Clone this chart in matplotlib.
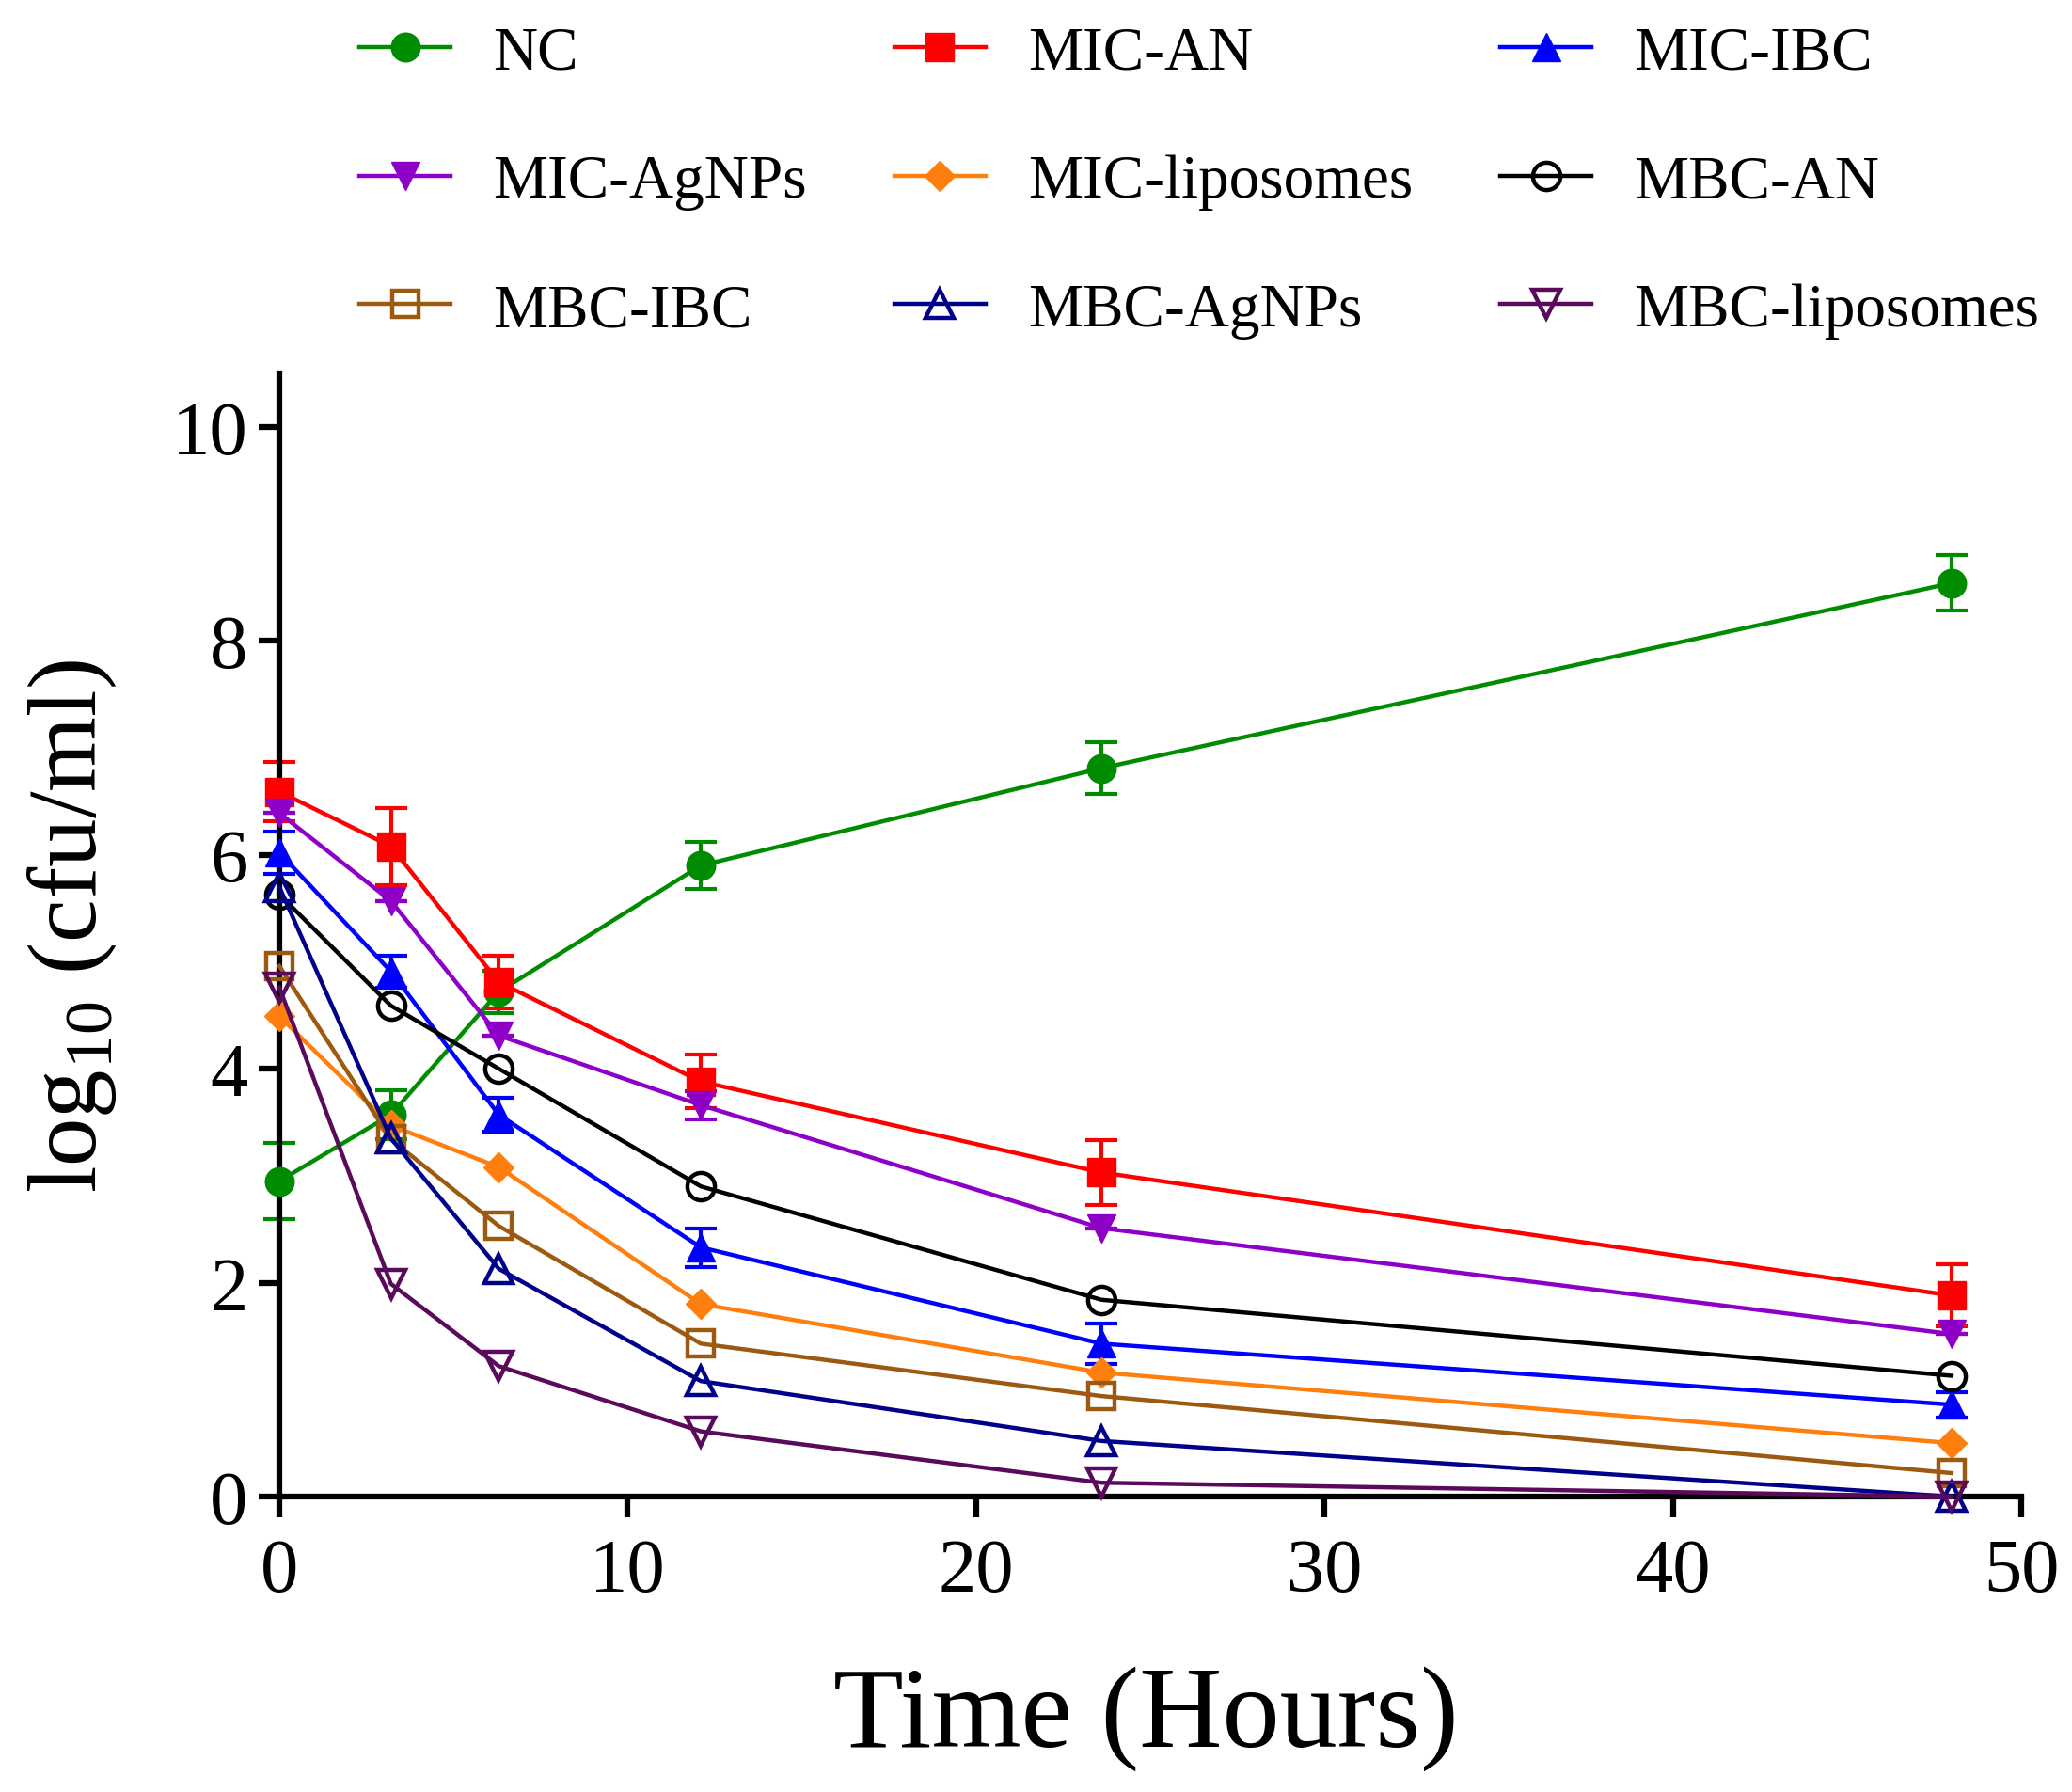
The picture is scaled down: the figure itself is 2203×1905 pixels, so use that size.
import matplotlib
matplotlib.use('Agg')
import matplotlib.pyplot as plt
import numpy as np

plt.rcParams['font.family'] = 'Liberation Serif'
plt.rcParams['mathtext.fontset'] = 'custom'
plt.rcParams['mathtext.rm'] = 'Liberation Serif'

# time points (hours)
hours = [0, 3.2, 6.3, 12.1, 23.6, 48]

nc = [2.95, 3.57, 4.72, 5.90, 6.81, 8.54]
nc_err = [0.36, 0.23, 0.2, 0.22, 0.24, 0.26]
mic_an = [6.59, 6.08, 4.81, 3.88, 3.03, 1.88]
mic_an_err = [0.28, 0.36, 0.25, 0.25, 0.30, 0.29]
mic_ibc = [6.02, 4.91, 3.57, 2.33, 1.43, 0.86]
mic_ibc_err = [0.2, 0.15, 0.16, 0.18, 0.19, 0.12]
mic_agnps = [6.39, 5.57, 4.31, 3.66, 2.51, 1.52]
mic_agnps_err = [0, 0, 0, 0.13, 0, 0]
mic_lipo = [4.49, 3.47, 3.08, 1.80, 1.16, 0.50]
mbc_an = [5.63, 4.59, 4.00, 2.90, 1.84, 1.13]
mbc_ibc = [4.96, 3.34, 2.53, 1.43, 0.94, 0.22]
mbc_agnps = [5.70, 3.35, 2.13, 1.08, 0.52, 0.0]
mbc_lipo = [4.76, 1.99, 1.22, 0.61, 0.13, 0.0]

labels = ['NC', 'MIC-AN', 'MIC-IBC', 'MIC-AgNPs', 'MIC-liposomes',
          'MBC-AN', 'MBC-IBC', 'MBC-AgNPs', 'MBC-liposomes']
values = [nc, mic_an, mic_ibc, mic_agnps, mic_lipo, mbc_an, mbc_ibc, mbc_agnps, mbc_lipo]
errors = [nc_err, mic_an_err, mic_ibc_err, mic_agnps_err, None, None, None, None, None]
colors = ['#008c00', '#ff0000', '#0000ff', '#8e00c8', '#ff7f0e',
          '#000000', '#9c5a10', '#00008b', '#5a0a5a']
markers = ['o', 's', '^', 'v', 'D', 'o', 's', '^', 'v']
filled = [True, True, True, True, True, False, False, False, False]
sizes = [22, 22, 22, 22, 16, 21, 20, 21, 21]

fig = plt.figure(figsize=(22.03, 19.06), dpi=100)
ax = fig.add_axes([297 / 2203, 1 - 1592 / 1906, (2149 - 297) / 2203, (1592 - 398) / 1906])

handles = []
for i in range(len(labels)):
    c = colors[i]
    if errors[i] is not None:
        ax.errorbar(hours, values[i], yerr=errors[i], fmt='none', ecolor=c,
                    elinewidth=3, capsize=12, capthick=3, clip_on=False, zorder=2)
    fc = c if filled[i] else 'none'
    ln, = ax.plot(hours, values[i], color=c, lw=3.2, marker=markers[i],
                  markersize=sizes[i], markerfacecolor=fc, markeredgecolor=c,
                  markeredgewidth=3.2 if not filled[i] else 1.0,
                  clip_on=False, zorder=3, label=labels[i])
    handles.append(ln)

ax.set_xlim(0, 50)
ax.set_ylim(0, 10.5)
ax.set_xticks([0, 10, 20, 30, 40, 50])
ax.set_yticks([0, 2, 4, 6, 8, 10])
for s in ['top', 'right']:
    ax.spines[s].set_visible(False)
for s in ['left', 'bottom']:
    ax.spines[s].set_linewidth(4.5)
ax.tick_params(axis='both', length=16, width=4.5, labelsize=58)
ax.tick_params(axis='x', pad=16)
ax.tick_params(axis='y', pad=8)

fig.text(77 / 2203, 1 - 985 / 1906, r'log$_{10}$ (cfu/ml)', rotation=90,
         ha='center', va='center', fontsize=74)
fig.text(1218 / 2203, 1 - 1827 / 1906, 'Time (Hours)', ha='center', va='center',
         fontsize=88)

# legend filled row by row, matplotlib fills by column
order = [0, 3, 6, 1, 4, 7, 2, 5, 8]
fig.legend([handles[k] for k in order], [labels[k] for k in order],
           loc='upper left', bbox_to_anchor=(382 / 2203, 1 - 28 / 1906),
           ncol=3, frameon=False, fontsize=47, handlelength=1.49,
           handletextpad=0.69, columnspacing=1.42, labelspacing=1.18,
           borderpad=0, borderaxespad=0)

fig.savefig('out.png', dpi=100)
